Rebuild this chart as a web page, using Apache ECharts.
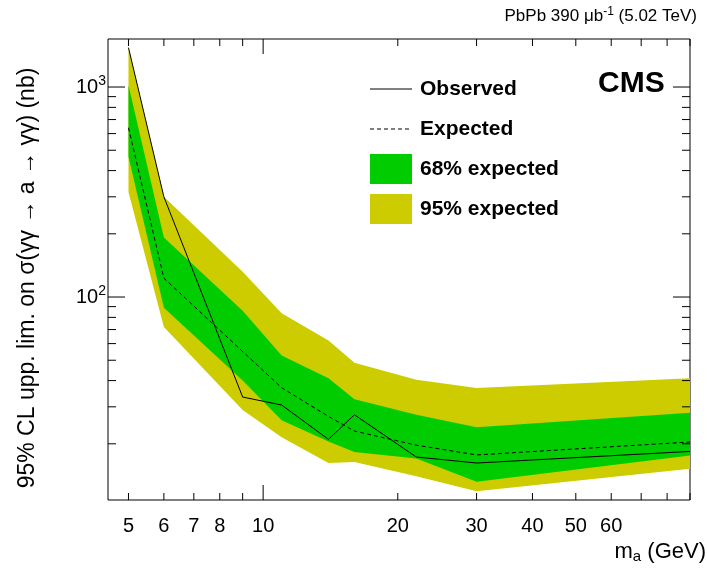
<!DOCTYPE html>
<html>
<head>
    <meta charset="utf-8">
    <title>CMS ALP limits</title>
    <script src="https://cdn.jsdelivr.net/npm/echarts@6/dist/echarts.min.js"></script>
    <style>
        body { margin: 0; background: #fff; }
        #chart { width: 707px; height: 571px; }
    </style>
</head>
<body>
<div id="chart"></div>
<script>
    // masses (GeV) and limits (nb)
    var masses   = [5, 6, 9, 11, 14, 16, 22, 30, 90];
    var observed = [1540, 300, 33.4, 30.6, 21, 27.5, 17.3, 16.2, 18.4];
    var expected = [640, 123, 55, 37, 27, 23, 19.7, 17.7, 20.4];
    var band68Up = [1020, 192, 86, 52.6, 41, 32.6, 27.5, 24, 28.1];
    var band68Lo = [466, 89, 40, 25.9, 20.5, 18.3, 17, 13.2, 17.6];
    var band95Up = [1540, 300, 132, 83.7, 62, 48.7, 40.4, 36.9, 41];
    var band95Lo = [316, 72, 29, 21.5, 16.2, 16.4, 14, 11.9, 15.2];

    var xLabels = [5, 6, 7, 8, 10, 20, 30, 40, 50, 60];
    var xTicks = [5, 6, 7, 8, 9, 10, 20, 30, 40, 50, 60, 70, 80, 90];
    var xMajor = [10];
    var yTicks = [20, 30, 40, 50, 60, 70, 80, 90, 100, 200, 300, 400, 500, 600, 700, 800, 900, 1000];
    var yMajor = [100, 1000];

    var xMin = 4.5, xMax = 90, yMin = 10.8, yMax = 1693;
    var lg = Math.log10;
    var FONT = 'Liberation Sans, Arial, sans-serif';

    function pts(ys) {
        return masses.map(function (m, i) { return [lg(m), lg(ys[i])]; });
    }

    function bandSeries(up, lo, color) {
        return {
            type: 'custom',
            data: [0],
            silent: true,
            renderItem: function (params, api) {
                var p = [];
                masses.forEach(function (m, i) { p.push(api.coord([lg(m), lg(up[i])])); });
                for (var i = masses.length - 1; i >= 0; i--) p.push(api.coord([lg(masses[i]), lg(lo[i])]));
                return { type: 'polygon', shape: { points: p }, style: { fill: color } };
            }
        };
    }

    // ticks on all four sides plus tick labels
    var tickSeries = {
        type: 'custom',
        data: [0],
        silent: true,
        z: 10,
        renderItem: function (params, api) {
            var ch = [];
            var line = { stroke: '#000', lineWidth: 1 };
            xTicks.forEach(function (t) {
                var len = xMajor.indexOf(t) >= 0 ? 15 : 7;
                var b = api.coord([lg(t), lg(yMin)]);
                var tp = api.coord([lg(t), lg(yMax)]);
                ch.push({ type: 'line', shape: { x1: b[0], y1: b[1], x2: b[0], y2: b[1] - len }, style: line });
                ch.push({ type: 'line', shape: { x1: tp[0], y1: tp[1], x2: tp[0], y2: tp[1] + len }, style: line });
            });
            xLabels.forEach(function (t) {
                var b = api.coord([lg(t), lg(yMin)]);
                ch.push({ type: 'text', x: b[0], y: b[1] + 16,
                    style: { text: String(t), font: '20px ' + FONT, fill: '#000', align: 'center', verticalAlign: 'top' } });
            });
            yTicks.forEach(function (t) {
                var len = yMajor.indexOf(t) >= 0 ? 17 : 8;
                var l = api.coord([lg(xMin), lg(t)]);
                var r = api.coord([lg(xMax), lg(t)]);
                ch.push({ type: 'line', shape: { x1: l[0], y1: l[1], x2: l[0] + len, y2: l[1] }, style: line });
                ch.push({ type: 'line', shape: { x1: r[0], y1: r[1], x2: r[0] - len, y2: r[1] }, style: line });
            });
            yMajor.forEach(function (t) {
                var l = api.coord([lg(xMin), lg(t)]);
                ch.push({ type: 'text', x: l[0] - 2, y: l[1],
                    style: { text: '10{s|' + Math.round(lg(t)) + '}', font: '20px ' + FONT, fill: '#000',
                        align: 'right', verticalAlign: 'middle',
                        rich: { s: { fontSize: 14, fontFamily: FONT, verticalAlign: 'top', padding: [0, 0, 12, 0] } } } });
            });
            return { type: 'group', children: ch };
        }
    };

    var chart = echarts.init(document.getElementById('chart'));

    var legendText = { font: 'bold 21px ' + FONT, fill: '#000', verticalAlign: 'middle' };

    chart.setOption({
        animation: false,
        grid: { left: 108, right: 17, top: 39, bottom: 71, show: true, borderColor: '#000', borderWidth: 1, backgroundColor: '#fff' },
        xAxis: { type: 'value', min: lg(xMin), max: lg(xMax), axisLabel: { show: false }, axisTick: { show: false }, splitLine: { show: false }, axisLine: { show: false } },
        yAxis: { type: 'value', min: lg(yMin), max: lg(yMax), axisLabel: { show: false }, axisTick: { show: false }, splitLine: { show: false }, axisLine: { show: false } },
        series: [
            bandSeries(band95Up, band95Lo, '#cccc00'),
            bandSeries(band68Up, band68Lo, '#00cc00'),
            { type: 'line', data: pts(expected), symbol: 'none', lineStyle: { color: '#000', width: 1, type: [4, 3] }, z: 5 },
            { type: 'line', data: pts(observed), symbol: 'none', lineStyle: { color: '#000', width: 1 }, z: 6 },
            tickSeries
        ],
        graphic: [
            { type: 'text', right: 10, top: 6, style: { text: 'PbPb 390 μb{s|-1} (5.02 TeV)', font: '17px ' + FONT, fill: '#000',
                rich: { s: { fontSize: 12, fontFamily: FONT, verticalAlign: 'top', padding: [0, 0, 8, 0] } } } },
            { type: 'text', x: 598, y: 84, style: { text: 'CMS', font: 'bold 30px ' + FONT, fill: '#000', verticalAlign: 'middle' } },
            { type: 'line', shape: { x1: 370, y1: 89, x2: 412, y2: 89 }, style: { stroke: '#000', lineWidth: 1 } },
            { type: 'text', x: 420, y: 89, style: Object.assign({ text: 'Observed' }, legendText) },
            { type: 'line', shape: { x1: 370, y1: 129, x2: 412, y2: 129 }, style: { stroke: '#000', lineWidth: 1, lineDash: [4, 3] } },
            { type: 'text', x: 420, y: 129, style: Object.assign({ text: 'Expected' }, legendText) },
            { type: 'rect', shape: { x: 370, y: 154, width: 42, height: 30 }, style: { fill: '#00cc00' } },
            { type: 'text', x: 420, y: 169, style: Object.assign({ text: '68% expected' }, legendText) },
            { type: 'rect', shape: { x: 370, y: 194, width: 42, height: 30 }, style: { fill: '#cccc00' } },
            { type: 'text', x: 420, y: 209, style: Object.assign({ text: '95% expected' }, legendText) },
            { type: 'text', x: 706, y: 552, style: { text: 'm{s|a} (GeV)', font: '22px ' + FONT, fill: '#000', align: 'right', verticalAlign: 'middle',
                rich: { s: { fontSize: 15, fontFamily: FONT, verticalAlign: 'bottom', padding: [10, 0, 0, 0] } } } },
            { type: 'text', x: 28, y: 278, rotation: Math.PI / 2,
                style: { text: '95% CL upp. lim. on σ(γγ → a → γγ) (nb)', font: '23px ' + FONT, fill: '#000', align: 'center', verticalAlign: 'middle' } }
        ]
    });
</script>
</body>
</html>
